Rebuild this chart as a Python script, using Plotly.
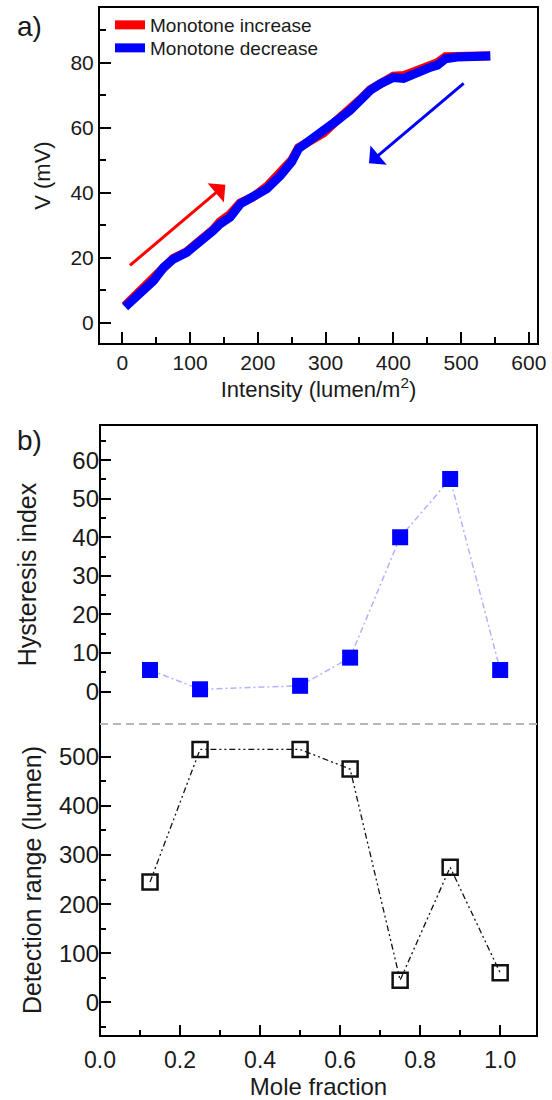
import plotly.graph_objects as go

# ---------------- data: panel a ----------------
intensity = [4, 18, 31, 46, 61, 75, 95, 115, 134, 144, 159, 174, 194, 213, 233, 250,
             260, 277, 297, 317, 336, 351, 366, 381, 400, 415, 435, 455, 465, 477,
             494, 520, 543]
v_increase = [5.2, 8.0, 10.6, 13.6, 17.4, 19.7, 21.8, 25.0, 28.6, 31.0, 33.3, 36.8,
              38.8, 41.8, 46.0, 50.0, 53.8, 56.2, 58.4, 62.3, 65.4, 68.6, 71.7, 73.8,
              75.8, 76.0, 77.6, 79.1, 80.0, 81.8, 82.0, 82.1, 82.1]
v_decrease = [4.8, 7.2, 9.8, 12.9, 17.0, 19.5, 21.6, 24.7, 28.3, 30.3, 32.4, 36.5,
              38.5, 41.1, 45.2, 49.5, 53.5, 56.0, 58.6, 62.2, 65.3, 68.4, 71.5, 73.5,
              75.4, 75.1, 77.1, 78.6, 79.2, 81.2, 81.7, 81.9, 82.0]
series_names = ["Monotone increase", "Monotone decrease"]

# arrows (tail -> tip) in data units
arrow_inc = [(9, 17.2), (152, 42.4)]
arrow_dec = [(506, 74.0), (364, 49.0)]

# ---------------- data: panel b ----------------
mole_fraction = [0.125, 0.25, 0.5, 0.625, 0.75, 0.875, 1.0]
hysteresis_index = [5.6, 0.6, 1.5, 8.8, 40.0, 55.1, 5.6]
detection_range = [245, 515, 515, 475, 45, 275, 60]

FONT = "Liberation Sans, Arial, Helvetica, sans-serif"
TXT = "#1a1a1a"

W, H = 552, 1100
def px_x(p):
    return p / W
def px_y(p):
    return 1 - p / H

xa_dom = [px_x(100), px_x(537)]
ya_dom = [px_y(343), px_y(8)]
yb1_dom = [px_y(724), px_y(425)]
yb2_dom = [px_y(1036), px_y(724)]

fig = go.Figure()

fig.add_trace(go.Scatter(x=intensity, y=v_increase, mode="lines", name=series_names[0],
                         line=dict(color="#ff0000", width=9), xaxis="x", yaxis="y",
                         legend="legend"))
fig.add_trace(go.Scatter(x=intensity, y=v_decrease, mode="lines", name=series_names[1],
                         line=dict(color="#0000ff", width=9), xaxis="x", yaxis="y",
                         legend="legend2"))

fig.add_trace(go.Scatter(x=mole_fraction, y=hysteresis_index, mode="lines+markers",
                         showlegend=False, xaxis="x2", yaxis="y2",
                         line=dict(color="#b0b4ff", width=1.5, dash="6px,3px,2px,3px"),
                         marker=dict(symbol="square", size=16, color="#0000ff",
                                     line=dict(width=0))))
fig.add_trace(go.Scatter(x=mole_fraction, y=detection_range, mode="lines+markers",
                         showlegend=False, xaxis="x3", yaxis="y3",
                         line=dict(color="#111111", width=1.3,
                                   dash="6px,3px,2px,3px,2px,3px"),
                         marker=dict(symbol="square-open", size=15, color="#111111",
                                     line=dict(width=2.5, color="#111111"))))

common = dict(showgrid=False, zeroline=False, ticks="inside", tickwidth=2,
              tickcolor="black", automargin=False)

legend_common = dict(xanchor="left", yanchor="middle", bgcolor="rgba(0,0,0,0)",
                     font=dict(size=19, family=FONT, color=TXT), itemwidth=30,
                     borderwidth=0)

fig.update_layout(
    width=W, height=H, plot_bgcolor="white", paper_bgcolor="white",
    margin=dict(l=0, r=0, t=0, b=0),
    font=dict(family=FONT, color=TXT),
    showlegend=True,
    legend=dict(x=px_x(110), y=px_y(25), **legend_common),
    legend2=dict(x=px_x(110), y=px_y(48), **legend_common),
    xaxis=dict(domain=xa_dom, anchor="y", range=[-33, 612], dtick=100, tick0=0,
               ticklen=11, minor=dict(ticks="inside", dtick=50, tick0=0, ticklen=6,
                                      tickwidth=2, tickcolor="black"),
               showline=True, mirror=True, linewidth=2, linecolor="black",
               tickfont=dict(size=21), title=dict(text="Intensity (lumen/m<sup>2</sup>)",
                                                  font=dict(size=22), standoff=6),
               **common),
    yaxis=dict(domain=ya_dom, anchor="x", range=[-6.3, 96.8], dtick=20, tick0=0,
               ticklen=11, minor=dict(ticks="inside", dtick=10, tick0=0, ticklen=6,
                                      tickwidth=2, tickcolor="black"),
               showline=True, mirror=True, linewidth=2, linecolor="black",
               tickfont=dict(size=21), title=dict(text="V (mV)", font=dict(size=22),
                                                  standoff=14),
               **common),
    xaxis2=dict(domain=xa_dom, anchor="y2", range=[0, 1.092], visible=False),
    yaxis2=dict(domain=yb1_dom, anchor="x2", range=[-8.4, 69.1], dtick=10, tick0=0,
                ticklen=11, minor=dict(ticks="inside", tickvals=[5, 15, 25, 35, 45, 55, 65],
                                       ticklen=6, tickwidth=2, tickcolor="black"),
                showline=False, tickfont=dict(size=24),
                title=dict(text="Hysteresis index", font=dict(size=25), standoff=28),
                **common),
    xaxis3=dict(domain=xa_dom, anchor="y3", range=[0, 1.092], dtick=0.2, tick0=0,
                tickformat=".1f", ticklen=11, ticklabelstandoff=8,
                minor=dict(ticks="inside", dtick=0.1, tick0=0, ticklen=6, tickwidth=2,
                           tickcolor="black"),
                showline=False, tickfont=dict(size=23),
                title=dict(text="Mole fraction", font=dict(size=24), standoff=8),
                **common),
    yaxis3=dict(domain=yb2_dom, anchor="x3", range=[-68.6, 566.8], dtick=100, tick0=0,
                ticklen=11, minor=dict(ticks="inside",
                                       tickvals=[-50, 50, 150, 250, 350, 450],
                                       ticklen=6, tickwidth=2, tickcolor="black"),
                showline=False, tickfont=dict(size=24),
                title=dict(text="Detection range (lumen)", font=dict(size=25), standoff=10),
                **common),
)

# frame of panel b and dashed separator
fig.add_shape(type="rect", xref="paper", yref="paper", x0=xa_dom[0], x1=xa_dom[1],
              y0=yb2_dom[0], y1=yb1_dom[1], line=dict(color="black", width=2))
fig.add_shape(type="line", xref="paper", yref="paper", x0=xa_dom[0], x1=xa_dom[1],
              y0=yb2_dom[1], y1=yb2_dom[1], line=dict(color="#b8b8b8", width=2, dash="8px,5px"))

# arrows
for (tail, tip), col in [(arrow_inc, "#ff0000"), (arrow_dec, "#0000ff")]:
    fig.add_annotation(x=tip[0], y=tip[1], ax=tail[0], ay=tail[1], xref="x", yref="y",
                       axref="x", ayref="y", showarrow=True, arrowhead=1, arrowsize=1.4,
                       arrowwidth=3, arrowcolor=col, text="")

# panel labels
fig.add_annotation(text="a)", x=px_x(15), y=px_y(27), xref="paper", yref="paper",
                   xanchor="left", yanchor="middle", showarrow=False,
                   font=dict(size=28, color=TXT))
fig.add_annotation(text="b)", x=px_x(15), y=px_y(440), xref="paper", yref="paper",
                   xanchor="left", yanchor="middle", showarrow=False,
                   font=dict(size=28, color=TXT))

fig.write_html("out.html", config={"displayModeBar": False},
               post_script="document.body.style.margin='0';document.body.style.overflow='hidden';")
